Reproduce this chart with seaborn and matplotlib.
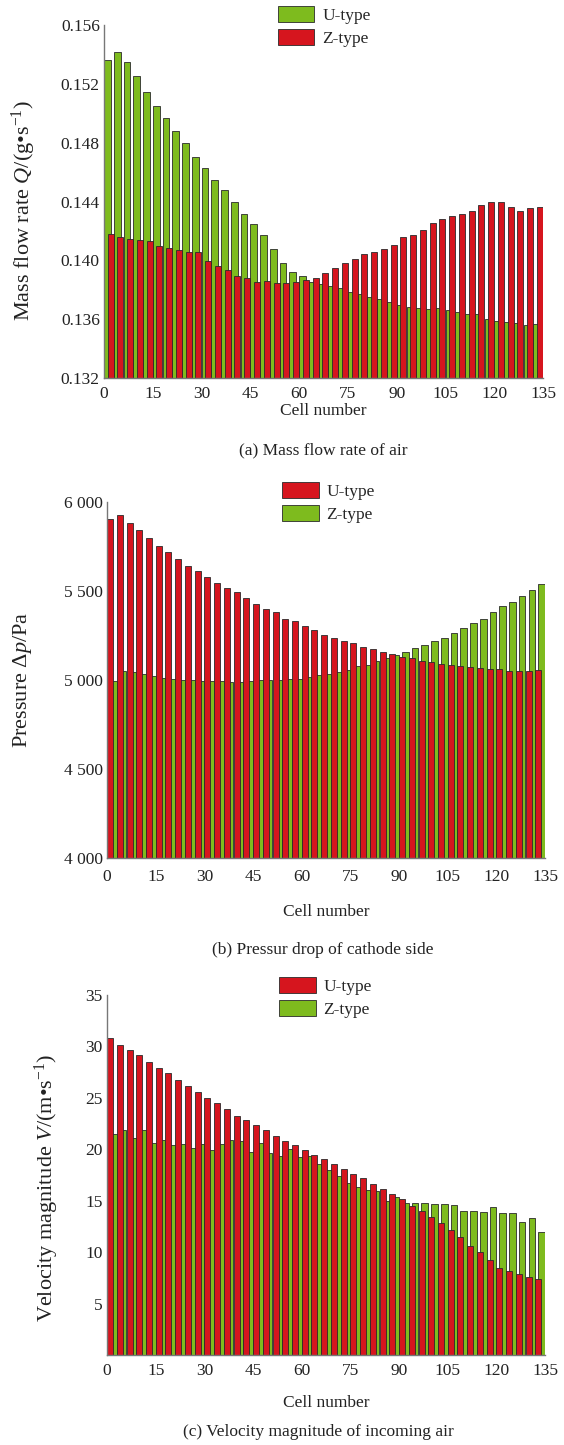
import numpy as np
import pandas as pd
import matplotlib
matplotlib.use("Agg")
import matplotlib.pyplot as plt
import seaborn as sns
from matplotlib.patches import Patch

# ---------------- data ----------------
cells = list(range(0, 135, 3))  # start cell of each group of three cells

mass_u = [0.15359, 0.15416, 0.15348, 0.15252, 0.15146, 0.15052, 0.14971, 0.14882, 0.14799, 0.14703,
          0.14631, 0.14545, 0.14477, 0.14397, 0.14314, 0.14246, 0.14171, 0.14075, 0.13980, 0.13921,
          0.13892, 0.13855, 0.13842, 0.13826, 0.13812, 0.13787, 0.13771, 0.13749, 0.13735, 0.13715,
          0.13699, 0.13685, 0.13674, 0.13672, 0.13674, 0.13663, 0.13647, 0.13633, 0.13633, 0.13599,
          0.13590, 0.13581, 0.13572, 0.13561, 0.13565]
mass_z = [0.14180, 0.14161, 0.14143, 0.14139, 0.14130, 0.14098, 0.14086, 0.14071, 0.14059, 0.14059,
          0.13998, 0.13964, 0.13935, 0.13892, 0.13878, 0.13855, 0.13862, 0.13844, 0.13844, 0.13851,
          0.13867, 0.13878, 0.13916, 0.13946, 0.13984, 0.14012, 0.14044, 0.14055, 0.14075, 0.14105,
          0.14157, 0.14173, 0.14207, 0.14256, 0.14280, 0.14302, 0.14314, 0.14338, 0.14379, 0.14399,
          0.14395, 0.14366, 0.14338, 0.14356, 0.14363]

pres_u = [5903, 5929, 5884, 5843, 5800, 5755, 5719, 5682, 5642, 5614,
          5577, 5545, 5517, 5493, 5461, 5427, 5399, 5380, 5345, 5330,
          5305, 5283, 5255, 5236, 5221, 5206, 5187, 5174, 5157, 5146,
          5131, 5124, 5107, 5101, 5092, 5084, 5077, 5073, 5067, 5064,
          5062, 5052, 5052, 5052, 5058]
pres_z = [4994, 5052, 5047, 5034, 5022, 5011, 5006, 5000, 4998, 4997,
          4997, 4993, 4989, 4986, 4997, 4998, 4998, 4998, 5006, 5004,
          5018, 5029, 5035, 5043, 5054, 5077, 5084, 5107, 5122, 5139,
          5157, 5181, 5198, 5217, 5238, 5264, 5294, 5322, 5343, 5380,
          5416, 5438, 5472, 5506, 5541]

vel_u = [30.80, 30.16, 29.67, 29.12, 28.53, 27.95, 27.40, 26.75, 26.20, 25.55,
         25.03, 24.48, 23.93, 23.28, 22.83, 22.34, 21.89, 21.30, 20.85, 20.40,
         19.94, 19.46, 19.03, 18.55, 18.13, 17.57, 17.18, 16.63, 16.11, 15.63,
         15.14, 14.49, 14.01, 13.42, 12.81, 12.13, 11.45, 10.64, 10.05, 9.21,
         8.46, 8.20, 7.85, 7.56, 7.39]
vel_z = [21.50, 21.92, 21.08, 21.85, 20.65, 20.88, 20.43, 20.56, 20.17, 20.49,
         19.91, 20.49, 20.88, 20.85, 19.75, 20.62, 19.62, 19.36, 20.01, 19.23,
         19.36, 18.58, 18.00, 17.41, 16.76, 16.31, 16.05, 15.98, 14.95, 15.40,
         14.82, 14.82, 14.82, 14.72, 14.66, 14.59, 14.01, 14.01, 13.94, 14.43,
         13.85, 13.85, 12.94, 13.33, 11.93]

x_ticks = [0, 15, 30, 45, 60, 75, 90, 105, 120, 135]
yticks_a = [0.132, 0.136, 0.140, 0.144, 0.148, 0.152, 0.156]
ylabels_a = ["0.132", "0.136", "0.140", "0.144", "0.148", "0.152", "0.156"]
yticks_b = [4000, 4500, 5000, 5500, 6000]
ylabels_b = ["4 000", "4 500", "5 000", "5 500", "6 000"]
yticks_c = [5, 10, 15, 20, 25, 30, 35]
ylabels_c = ["5", "10", "15", "20", "25", "30", "35"]

series_names = ["U-type", "Z-type"]

# ---------------- style ----------------
GREEN = "#7EBB1E"
RED = "#D6151E"
EDGE = "#2a2a2a"
SPINE = "#777777"

sns.set_style("white")
plt.rcParams.update({
    "font.family": ["Liberation Serif", "DejaVu Serif"],
    "mathtext.fontset": "custom",
    "mathtext.rm": "Liberation Serif",
    "mathtext.it": "Liberation Serif:italic",
    "font.size": 12.5,
})

W, H = 564, 1445
fig = plt.figure(figsize=(W / 100, H / 100), dpi=100)


def ax_at(left, right, top, bottom):
    return fig.add_axes([left / W, 1 - bottom / H, (right - left) / W, (bottom - top) / H])


def bars(ax, vals, color, offset, width):
    df = pd.DataFrame({"cell": np.array(cells) + offset, "value": vals})
    sns.barplot(data=df, x="cell", y="value", native_scale=True, orient="x",
                width=width / 3.0, color=color, saturation=1, errorbar=None,
                edgecolor=EDGE, linewidth=0.6, ax=ax)


def style(ax, yticks, ylabels, ylim, ylabel, ylab_xy, xlab_y, tickpad):
    ax.set_xlim(0, 135)
    ax.set_ylim(*ylim)
    ax.set_xticks(x_ticks)
    ax.set_xticklabels([str(t) for t in x_ticks])
    ax.set_yticks(yticks)
    ax.set_yticklabels(ylabels)
    for s in ("top", "right"):
        ax.spines[s].set_visible(False)
    for s in ("left", "bottom"):
        ax.spines[s].set_color(SPINE)
        ax.spines[s].set_linewidth(1.0)
    ax.tick_params(axis="both", direction="in", length=4, width=1.0, color="#222222",
                   labelsize=12.5, labelcolor="#222222")
    ax.tick_params(axis="x", pad=tickpad)
    ax.tick_params(axis="y", pad=3)
    ax.set_ylabel(ylabel, fontsize=16, color="#222222")
    ax.yaxis.set_label_coords(*ylab_xy)
    ax.set_xlabel("Cell number", fontsize=12.5, color="#222222")
    ax.xaxis.set_label_coords(0.5, xlab_y)


def legend(ax, colors, anchor):
    handles = [Patch(facecolor=c, edgecolor=EDGE, linewidth=0.6, label=n)
               for c, n in zip(colors, series_names)]
    ax.legend(handles=handles, loc="upper left", bbox_to_anchor=anchor, frameon=False,
              borderaxespad=0, borderpad=0, handlelength=2.1, handleheight=1.05,
              handletextpad=0.45, labelspacing=0.28, fontsize=12.5)


# ---- panel (a) ----
ax_a = ax_at(104, 543, 25, 378)
bars(ax_a, mass_u, GREEN, 1.05, 2.05)
bars(ax_a, mass_z, RED, 2.05, 1.85)
style(ax_a, yticks_a, ylabels_a, (0.132, 0.156), r"Mass flow rate $Q$/(g•s$^{-1}$)",
      (-0.150, 0.475), -0.07, 6)
legend(ax_a, [GREEN, RED], (0.396, 1.054))

# ---- panel (b) ----
ax_b = ax_at(107, 545, 502, 858)
bars(ax_b, pres_z, GREEN, 1.95, 2.05)
bars(ax_b, pres_u, RED, 0.95, 1.85)
style(ax_b, yticks_b, ylabels_b, (4000, 6000), r"Pressure Δ$p$/Pa",
      (-0.167, 0.5), -0.13, 8)
legend(ax_b, [RED, GREEN], (0.40, 1.056))

# ---- panel (c) ----
ax_c = ax_at(107, 545, 995, 1355)
bars(ax_c, vel_z, GREEN, 1.95, 2.05)
bars(ax_c, vel_u, RED, 0.95, 1.85)
style(ax_c, yticks_c, ylabels_c, (0, 35), r"Velocity magnitude $V$/(m•s$^{-1}$)",
      (-0.105, 0.465), -0.112, 6)
legend(ax_c, [RED, GREEN], (0.393, 1.05))

# captions
fig.text(323 / W, 1 - 450 / H, "(a) Mass flow rate of air", ha="center", va="center",
         fontsize=12.5, color="#222222")
fig.text(323 / W, 1 - 950 / H, "(b) Pressur drop of cathode side", ha="center", va="center",
         fontsize=12.5, color="#222222")
fig.text(318 / W, 1 - 1432 / H, "(c) Velocity magnitude of incoming air", ha="center",
         va="center", fontsize=12.5, color="#222222")

fig.savefig("out.png", dpi=100, facecolor="white")
